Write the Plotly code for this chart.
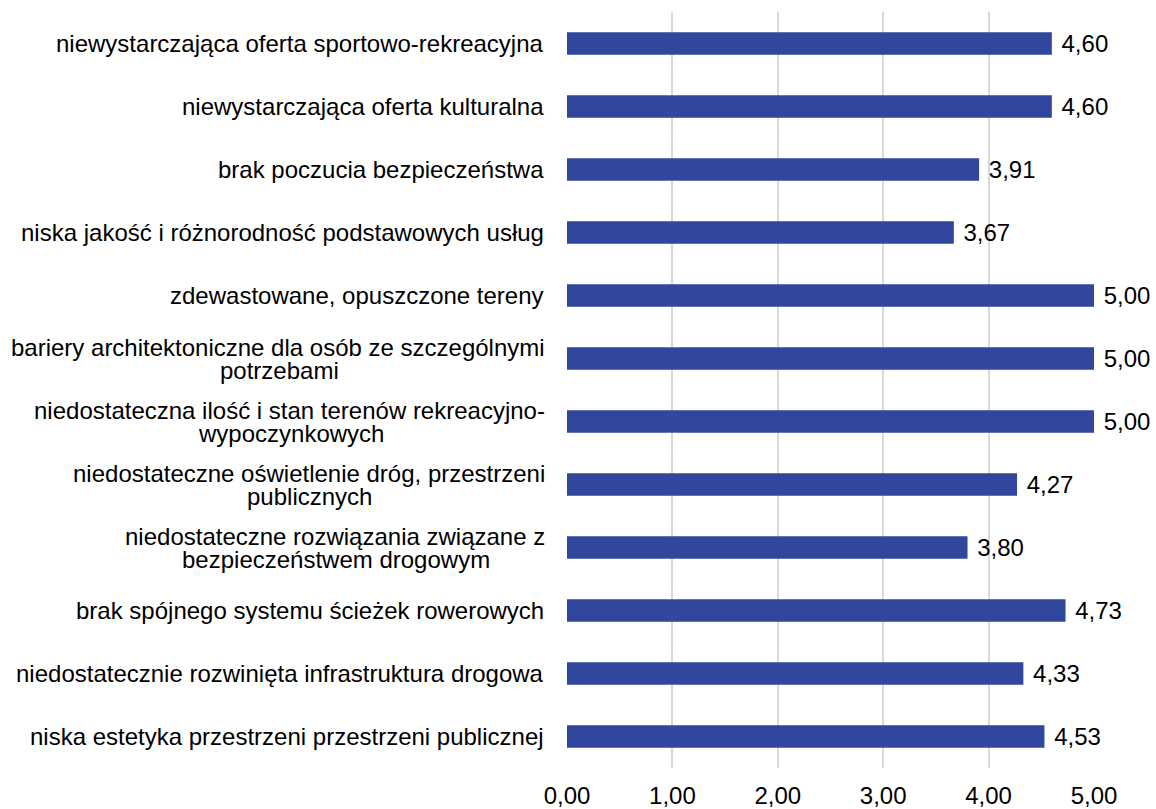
import plotly.graph_objects as go

categories = [
    "niewystarczająca oferta sportowo-rekreacyjna",
    "niewystarczająca oferta kulturalna",
    "brak poczucia bezpieczeństwa",
    "niska jakość i różnorodność podstawowych usług",
    "zdewastowane, opuszczone tereny",
    "bariery architektoniczne dla osób ze szczególnymi|potrzebami",
    "niedostateczna ilość i stan terenów rekreacyjno-|wypoczynkowych",
    "niedostateczne oświetlenie dróg, przestrzeni|publicznych",
    "niedostateczne rozwiązania związane z|bezpieczeństwem drogowym",
    "brak spójnego systemu ścieżek rowerowych",
    "niedostatecznie rozwinięta infrastruktura drogowa",
    "niska estetyka przestrzeni przestrzeni publicznej",
]
values = [4.60, 4.60, 3.91, 3.67, 5.00, 5.00, 5.00, 4.27, 3.80, 4.73, 4.33, 4.53]
tick_values = [0, 1, 2, 3, 4, 5]

FONT = "Liberation Sans, Arial, sans-serif"
FS = 24

# Arial / Liberation Sans advance widths (1/1000 em) for centering wrapped lines
W = {
    'a': 556, 'b': 556, 'c': 500, 'd': 556, 'e': 556, 'f': 278, 'g': 556, 'h': 556,
    'i': 222, 'j': 222, 'k': 500, 'l': 222, 'm': 833, 'n': 556, 'o': 556, 'p': 556,
    'q': 556, 'r': 333, 's': 500, 't': 278, 'u': 556, 'v': 500, 'w': 722, 'x': 500,
    'y': 500, 'z': 500, ' ': 278, '-': 333, ',': 278, 'ó': 556, 'ś': 500, 'ę': 556,
    'ą': 556, 'ń': 556, 'ż': 500, 'ł': 222, 'ć': 500, 'ź': 500,
}


def text_width(s):
    return sum(W.get(ch, 556) for ch in s) * FS / 1000.0


ylabels = [c.replace("|", " ") for c in categories]

fig = go.Figure()
fig.add_trace(go.Bar(
    x=values, y=ylabels, orientation="h",
    marker=dict(color="#31479E", line=dict(width=0)),
    width=0.36,
    text=["\u00a0" + f"{v:.2f}".replace(".", ",") for v in values],
    textposition="outside",
    constraintext="none",
    textfont=dict(family=FONT, size=FS, color="#000000"),
    cliponaxis=False,
    hoverinfo="skip",
))

GAP = -21
for c, yl in zip(categories, ylabels):
    parts = c.split("|")
    font = dict(family=FONT, size=FS, color="#000000")
    if len(parts) == 1:
        fig.add_annotation(x=0, y=yl, xref="x", yref="y", text=parts[0],
                           showarrow=False, xanchor="right", yanchor="middle",
                           xshift=GAP, font=font)
    else:
        w1 = text_width(parts[0])
        fig.add_annotation(x=0, y=yl, xref="x", yref="y", text=parts[0],
                           showarrow=False, xanchor="right", yanchor="middle",
                           xshift=GAP, yshift=11.5, borderpad=0, font=font)
        fig.add_annotation(x=0, y=yl, xref="x", yref="y", text=parts[1],
                           showarrow=False, xanchor="center", yanchor="middle",
                           xshift=GAP - w1 / 2, yshift=-11.5, borderpad=0, font=font)

fig.update_layout(
    width=1156, height=809,
    margin=dict(l=567, r=62, t=12, b=41),
    plot_bgcolor="white", paper_bgcolor="white",
    separators=", ",
    showlegend=False,
    font=dict(family=FONT, size=FS, color="#000000"),
)
fig.update_xaxes(
    range=[0, 5], tickvals=tick_values, tickformat=".2f",
    showgrid=True, gridcolor="#D9D9D9", gridwidth=2,
    zeroline=False, showline=False,
    automargin=False,
    ticklabelstandoff=11,
    tickfont=dict(family=FONT, size=FS, color="#000000"),
)
fig.update_yaxes(
    autorange="reversed", showticklabels=False, showgrid=False,
    zeroline=False, showline=False, automargin=False,
)

fig.write_html(
    "out.html",
    config={"displayModeBar": False},
    post_script="document.body.style.margin='0';document.body.style.overflow='hidden';",
)
